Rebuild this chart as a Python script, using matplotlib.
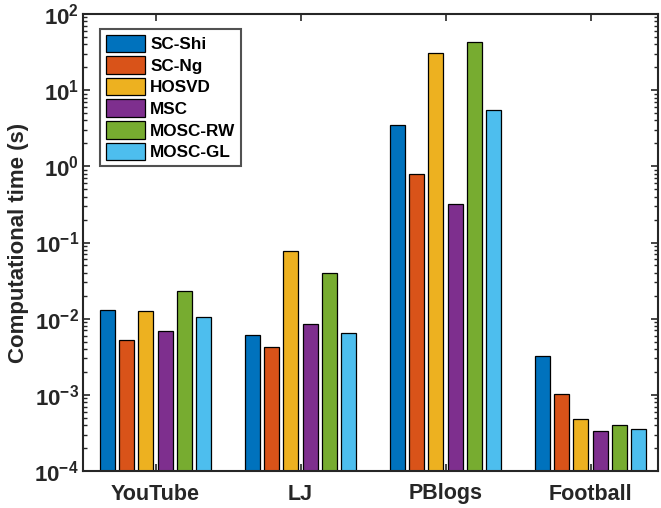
import numpy as np
import matplotlib
matplotlib.use('Agg')
from matplotlib import pyplot as plt
from matplotlib.ticker import LogLocator, FuncFormatter, NullFormatter

datasets = ['YouTube', 'LJ', 'PBlogs', 'Football']
methods = ['SC-Shi', 'SC-Ng', 'HOSVD', 'MSC', 'MOSC-RW', 'MOSC-GL']
colors = ['#0072BD', '#D95319', '#EDB120', '#7E2F8E', '#77AC30', '#4DBEEE']

# computational time (s), one list per method, ordered as datasets
sc_shi = [0.0131, 0.0061, 3.5, 0.00327]
sc_ng = [0.0053, 0.0043, 0.79, 0.00102]
hosvd = [0.0128, 0.0785, 30.4, 0.00048]
msc = [0.0068, 0.0084, 0.32, 0.00034]
mosc_rw = [0.0228, 0.0399, 43.0, 0.00040]
mosc_gl = [0.0105, 0.0065, 5.5, 0.00036]
values = [sc_shi, sc_ng, hosvd, msc, mosc_rw, mosc_gl]

plt.rcParams['font.family'] = ['Liberation Sans', 'DejaVu Sans']
plt.rcParams['font.weight'] = 'bold'
plt.rcParams['mathtext.fontset'] = 'custom'
plt.rcParams['mathtext.rm'] = 'Liberation Sans:bold'
plt.rcParams['mathtext.bf'] = 'Liberation Sans:bold'

fig = plt.figure(figsize=(6.61, 5.08), dpi=100)
ax = fig.add_axes([83 / 661, 1 - 471 / 508, (658 - 83) / 661, (471 - 14) / 508])

x = np.arange(1, len(datasets) + 1)
pitch = 0.133
width = 0.103
for i, (name, vals, c) in enumerate(zip(methods, values, colors)):
    ax.bar(x + (i - 2.5) * pitch, vals, width, color=c,
           edgecolor='black', linewidth=0.9, label=name, zorder=2)

ax.set_yscale('log')
ax.set_ylim(1e-4, 1e2)
ax.set_xlim(0.5, 4.465)
ax.set_xticks(x)
ax.set_xticklabels(datasets, fontsize=15.5, fontweight='bold', color='#262626')
ax.yaxis.set_major_locator(LogLocator(base=10, numticks=10))
ax.yaxis.set_minor_locator(LogLocator(base=10, subs=np.arange(2, 10), numticks=20))
ax.yaxis.set_minor_formatter(NullFormatter())
ax.yaxis.set_major_formatter(FuncFormatter(lambda v, p: r'$10^{%d}$' % round(np.log10(v))))
ax.tick_params(axis='y', labelsize=16, pad=3)
ax.tick_params(axis='x', pad=9)
ax.tick_params(which='both', direction='in', top=True, right=True, colors='#262626')
ax.tick_params(which='major', length=5, width=1.2)
ax.tick_params(which='minor', length=3, width=1.0)
for s in ax.spines.values():
    s.set_linewidth(1.5)
    s.set_color('#262626')
ax.set_ylabel('Computational time (s)', fontsize=16, fontweight='bold',
              color='#262626', labelpad=4)

leg = ax.legend(loc='upper left', bbox_to_anchor=(0.029, 0.968), fontsize=12.3,
                frameon=True, fancybox=False, edgecolor='#262626',
                handlelength=2.3, handleheight=1.2, labelspacing=0.24,
                borderpad=0.35, handletextpad=0.3, borderaxespad=0)
leg.get_frame().set_linewidth(1.5)
for t in leg.get_texts():
    t.set_fontweight('bold')

fig.savefig('out.png', dpi=100)
